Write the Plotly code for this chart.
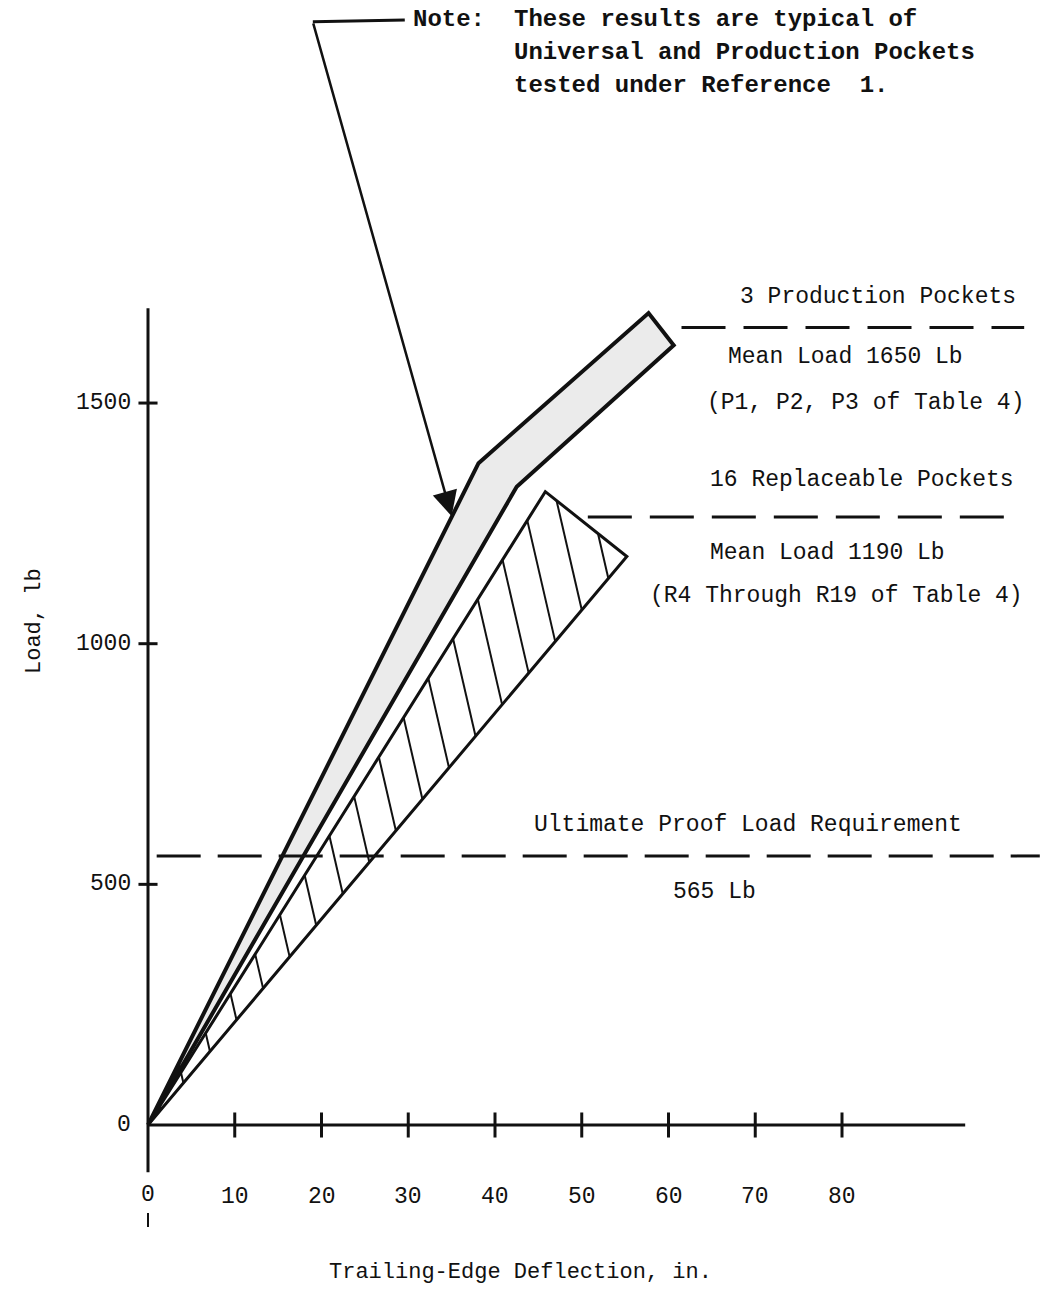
import plotly.graph_objects as go

# ---------------- data ----------------
x_tick_values = [10, 20, 30, 40, 50, 60, 70, 80]
x_tick_labels = ["10", "20", "30", "40", "50", "60", "70", "80"]
y_tick_values = [0, 500, 1000, 1500]
y_tick_labels = ["0", "500", "1000", "1500"]
x_origin_label = "0"

# envelope of the 3 production pockets (deflection in., load lb)
production_band_x = [0, 38.1, 57.7, 60.6, 42.5, 0]
production_band_y = [0, 1375, 1687, 1620, 1326, 0]

# envelope of the 16 replaceable pockets
replaceable_band_x = [0, 45.8, 55.2, 0]
replaceable_band_y = [0, 1316, 1181, 0]

# reference levels (as drawn) and their horizontal extents
production_level = 1657
production_level_x = [61.5, 101.0]
replaceable_level = 1263
replaceable_level_x = [50.7, 100.7]
proof_level = 559
proof_level_x = [1.0, 102.8]

# axis extents as drawn
x_axis_span = [0, 94.2]
y_axis_span = [-98, 1697]
y_axis_stub = [-183, -212]

# note leader (deflection, load)
leader_corner = (19.0, 2292)
leader_end = (29.6, 2296)
arrow_tip = (35.0, 1265)

# ---------------- figure geometry ----------------
W, H = 1042, 1311
X0, XS = 148, 8.675     # pixel of x=0, pixels per inch
Y0, YS = 1125, 0.4813   # pixel of y=0, pixels per lb
x_range = [(0 - X0) / XS, (W - X0) / XS]
y_range = [(Y0 - H) / YS, (Y0 - 0) / YS]

FONT = "Liberation Mono"
BLACK = "#111111"

fig = go.Figure()

def line(xs, ys, width=3, dash=None, color=BLACK):
    fig.add_trace(go.Scatter(x=xs, y=ys, mode="lines", hoverinfo="skip",
                             line=dict(color=color, width=width, dash=dash),
                             cliponaxis=False, showlegend=False))

# production band (stippled grey, heavy outline)
fig.add_trace(go.Scatter(x=production_band_x, y=production_band_y, mode="lines",
                         fill="toself", fillcolor="#ebebeb",
                         line=dict(color=BLACK, width=4),
                         hoverinfo="skip", showlegend=False))

# replaceable band outline
fig.add_trace(go.Scatter(x=replaceable_band_x, y=replaceable_band_y, mode="lines",
                         fill="toself", fillcolor="white",
                         line=dict(color=BLACK, width=3),
                         hoverinfo="skip", showlegend=False))

# hatching of the replaceable band (steep parallel lines clipped to the triangle)
hatch_slope = 0.0128     # x + slope*y = const
hatch_start, hatch_step, hatch_count = 67.6, 3.9, 17
tri = list(zip(replaceable_band_x[:-1], replaceable_band_y[:-1]))
hx, hy = [], []
for k in range(hatch_count):
    c = hatch_start - k * hatch_step
    pts = []
    for i in range(3):
        (xa, ya), (xb, yb) = tri[i], tri[(i + 1) % 3]
        fa = xa + hatch_slope * ya - c
        fb = xb + hatch_slope * yb - c
        if fa == fb:
            continue
        t = fa / (fa - fb)
        if 0 <= t <= 1:
            pts.append((xa + t * (xb - xa), ya + t * (yb - ya)))
    if len(pts) >= 2:
        pts.sort(key=lambda p: p[1])
        hx += [pts[0][0], pts[-1][0], None]
        hy += [pts[0][1], pts[-1][1], None]
line(hx, hy, width=2)

# reference dashed levels
line(production_level_x, [production_level] * 2, width=3, dash="44px,18px")
line(replaceable_level_x, [replaceable_level] * 2, width=3, dash="44px,18px")
line(proof_level_x, [proof_level] * 2, width=3, dash="44px,17px")

# axes drawn through the origin
line(x_axis_span, [0, 0], width=3)
line([0, 0], y_axis_span, width=3)
line([0, 0], y_axis_stub, width=2)

tx, ty = [], []
for v in x_tick_values:
    tx += [v, v, None]
    ty += [-26, 26, None]
line(tx, ty, width=3)
tx, ty = [], []
for v in y_tick_values[1:]:
    tx += [-1.1, 1.1, None]
    ty += [v, v, None]
line(tx, ty, width=3)

# note leader
line([leader_end[0], leader_corner[0]], [leader_end[1], leader_corner[1]], width=3)

annotations = []
annotations.append(dict(x=arrow_tip[0], y=arrow_tip[1], ax=leader_corner[0], ay=leader_corner[1],
                        xref="x", yref="y", axref="x", ayref="y", text="",
                        showarrow=True, arrowhead=2, arrowsize=2.0, arrowwidth=2.5,
                        arrowcolor=BLACK, standoff=0, startstandoff=0))

def px_text(text, px, py, size=23, anchor="center", bold=False, angle=0):
    if bold:
        text = "<b>" + text + "</b>"
    annotations.append(dict(x=px / W, y=1 - py / H, xref="paper", yref="paper",
                            text=text, showarrow=False, xanchor=anchor, yanchor="middle",
                            textangle=angle,
                            font=dict(family=FONT, size=size, color=BLACK)))

# tick labels
for v, lab in zip(x_tick_values, x_tick_labels):
    annotations.append(dict(x=v, y=1 - 1197 / H, xref="x", yref="paper", text=lab,
                            showarrow=False, xanchor="center", yanchor="middle",
                            font=dict(family=FONT, size=23, color=BLACK)))
annotations.append(dict(x=0, y=1 - 1195 / H, xref="x", yref="paper", text=x_origin_label,
                        showarrow=False, xanchor="center", yanchor="middle",
                        font=dict(family=FONT, size=23, color=BLACK)))
for v, lab in zip(y_tick_values, y_tick_labels):
    annotations.append(dict(x=133 / W, y=v, xref="paper", yref="y", text=lab,
                            showarrow=False, xanchor="right", yanchor="middle",
                            font=dict(family=FONT, size=23, color=BLACK)))

# note block
px_text("Note:", 411, 20, size=24, anchor="left", bold=True)
px_text("These results are typical of", 512, 20, size=24, anchor="left", bold=True)
px_text("Universal and Production Pockets", 512, 53, size=24, anchor="left", bold=True)
px_text("tested under Reference  1.", 512, 85, size=24, anchor="left", bold=True)

# band labels
px_text("3 Production Pockets", 878, 297)
px_text("Mean Load 1650 Lb", 845, 357)
px_text("(P1, P2, P3 of Table 4)", 865, 403)
px_text("16 Replaceable Pockets", 862, 480)
px_text("Mean Load 1190 Lb", 827, 553)
px_text("(R4 Through R19 of Table 4)", 836, 596)
px_text("Ultimate Proof Load Requirement", 748, 825)
px_text("565 Lb", 714, 892)

# axis titles
px_text("Load, lb", 35, 621, size=22, angle=-90)
px_text("Trailing-Edge Deflection, in.", 520, 1272, size=22)

fig.update_layout(
    width=W, height=H,
    margin=dict(l=0, r=0, t=0, b=0),
    paper_bgcolor="white", plot_bgcolor="white",
    xaxis=dict(range=x_range, visible=False, fixedrange=True),
    yaxis=dict(range=y_range, visible=False, fixedrange=True),
    showlegend=False,
    annotations=annotations,
)

fig.write_html("out.html", config={"displayModeBar": False},
               post_script="document.body.style.margin='0';document.body.style.overflow='hidden';")
